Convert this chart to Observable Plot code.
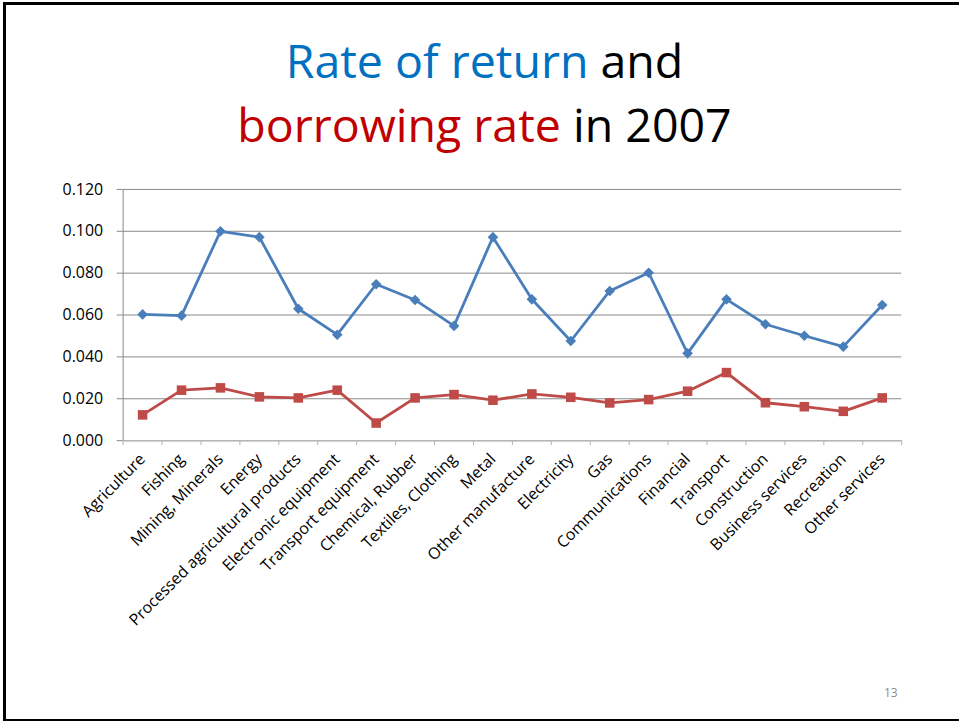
<!DOCTYPE html>
<html>
<head>
<meta charset="utf-8">
<script src="https://cdn.jsdelivr.net/npm/d3@7"></script>
<script src="https://cdn.jsdelivr.net/npm/@observablehq/plot@0.6"></script>
<style>
  html, body { margin: 0; padding: 0; background: #fff; }
  #slide {
    position: relative; box-sizing: border-box;
    border-top: 3px solid #000; border-left: 3px solid #000; border-bottom: 2px solid #000;
    margin-top: 2px; margin-left: 3px; width: 956px; height: 719px; overflow: hidden;
    font-family: "Open Sans", sans-serif;
  }
  #title {
    position: absolute; left: -6px; width: 969px; top: 23px; text-align: center;
    font-size: 46.5px; line-height: 64px; color: #000;
  }
  .blue { color: #0070C0; }
  .red { color: #C00000; }
  #chart { position: absolute; left: -3px; top: 160px; }
  #page { position: absolute; left: 878px; top: 679px; font-size: 12px; color: #8b8b8b; }
</style>
</head>
<body>
<div id="slide">
  <div id="title"><span class="blue">Rate of return</span> and<br><span class="red">borrowing rate</span> in 2007</div>
  <div id="chart"></div>
  <div id="page">13</div>
</div>
<script>
const categories = [
  "Agriculture", "Fishing", "Mining, Minerals", "Energy", "Processed agricultural products",
  "Electronic equipment", "Transport equipment", "Chemical, Rubber", "Textiles, Clothing", "Metal",
  "Other manufacture", "Electricity", "Gas", "Communications", "Financial",
  "Transport", "Construction", "Business services", "Recreation", "Other services"
];
const rateOfReturn = [
  0.0603, 0.0597, 0.1000, 0.0972, 0.0630, 0.0506, 0.0747, 0.0672, 0.0548, 0.0972,
  0.0675, 0.0476, 0.0715, 0.0802, 0.0417, 0.0675, 0.0556, 0.0501, 0.0449, 0.0648
];
const borrowingRate = [
  0.0123, 0.0241, 0.0252, 0.0209, 0.0204, 0.0241, 0.0084, 0.0204, 0.0220, 0.0193,
  0.0223, 0.0207, 0.0180, 0.0196, 0.0236, 0.0325, 0.0181, 0.0162, 0.0140, 0.0204
];
const yTicks = [0, 0.02, 0.04, 0.06, 0.08, 0.10, 0.12];

const n = categories.length;
const rows = categories.map((c, i) => ({i, pos: i + 0.5, c, ret: rateOfReturn[i], bor: borrowingRate[i]}));
const centers = rows.map(d => d.pos);
const boundaries = d3.range(n + 1);

const chart = Plot.plot({
  width: 959,
  height: 516,
  marginLeft: 120,
  marginRight: 58,
  marginTop: 24,
  marginBottom: 240,
  style: {fontFamily: "Open Sans, sans-serif", fontSize: "16px", color: "#000", background: "transparent"},
  x: {domain: [0, n], label: null},
  y: {domain: [0, 0.12], label: null},
  marks: [
    Plot.gridY(yTicks, {stroke: "#8a8a8a", strokeOpacity: 1, strokeWidth: 1}),
    Plot.ruleX([0], {stroke: "#8a8a8a", strokeWidth: 1}),
    Plot.ruleY([0], {stroke: "#b5b5b5", strokeWidth: 1.5}),
    Plot.axisY(yTicks, {tickFormat: d3.format(".3f"), tickSize: 6, tickPadding: 14, stroke: "#8a8a8a", fill: "#000", fontSize: 16, label: null}),
    Plot.axisX(boundaries, {tickSize: 5, tickFormat: () => "", stroke: "#b5b5b5", label: null}),
    Plot.axisX(centers, {tickSize: 0, tickPadding: 16, tickRotate: -45, tickFormat: d => categories[Math.floor(d)], fill: "#000", fontSize: 16, label: null}),
    Plot.line(rows, {x: "pos", y: "ret", stroke: "#4A7EBB", strokeWidth: 2.8}),
    Plot.line(rows, {x: "pos", y: "bor", stroke: "#BE4B48", strokeWidth: 2.8}),
    Plot.dot(rows, {x: "pos", y: "ret", symbol: "diamond2", r: 4.8, fill: "#4A7EBB", stroke: "none"}),
    Plot.dot(rows, {x: "pos", y: "bor", symbol: "square", r: 5.4, fill: "#BE4B48", stroke: "none"})
  ]
});
document.getElementById("chart").appendChild(chart);
</script>
</body>
</html>
